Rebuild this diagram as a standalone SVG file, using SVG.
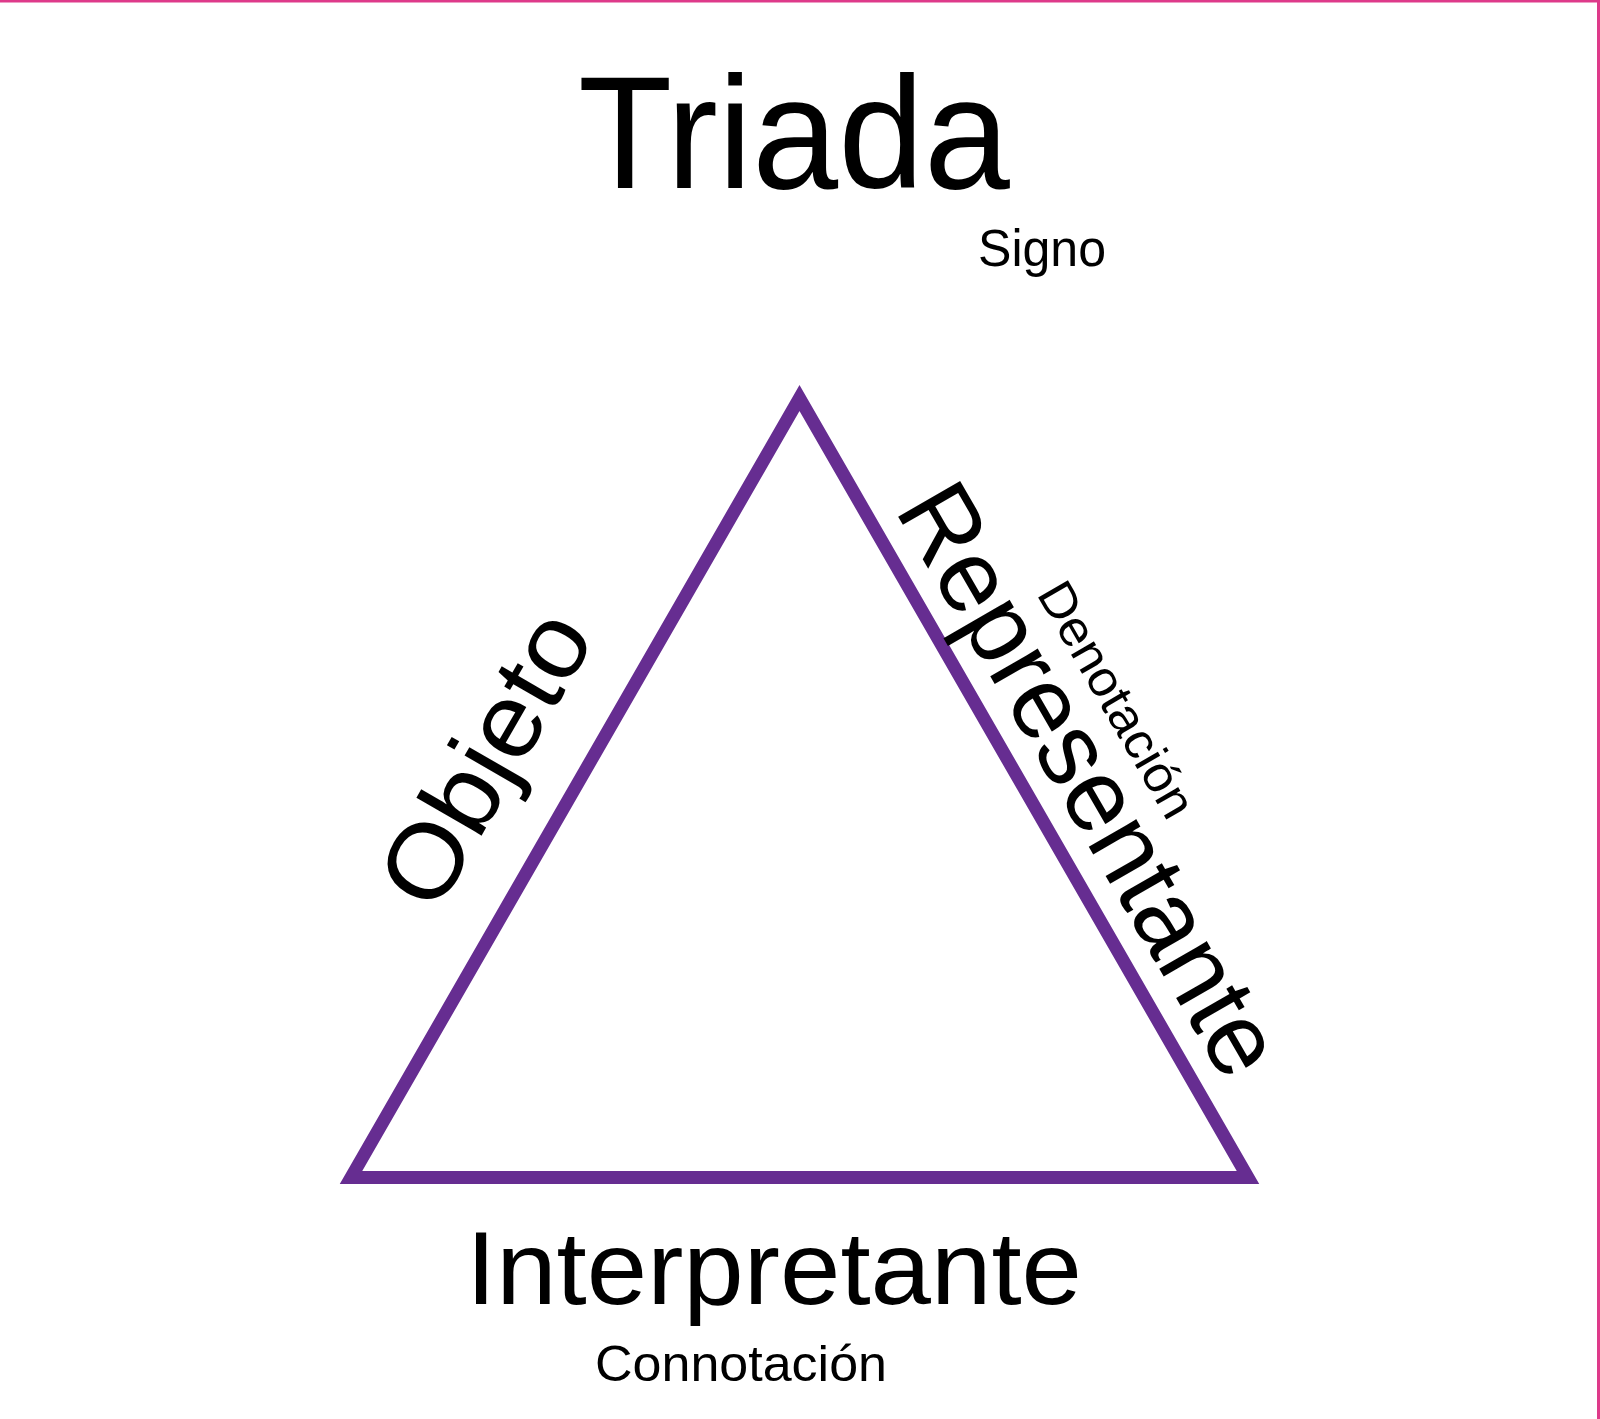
<svg xmlns="http://www.w3.org/2000/svg" width="1600" height="1419" viewBox="0 0 1600 1419">
  <style>
    .t { font-family: "Liberation Sans", Arial, sans-serif; fill: #000; text-anchor: middle; }
    .edge { fill: none; stroke: #662d91; stroke-width: 13; stroke-linejoin: miter; stroke-miterlimit: 10; }
    .frame { stroke: #de3a8a; stroke-width: 3; }
  </style>
  <rect x="0" y="0" width="1600" height="1419" fill="#ffffff"/>
  <g id="frame">
    <line class="frame" x1="0" y1="1" x2="1600" y2="1"/>
    <line class="frame" x1="1598.5" y1="0" x2="1598.5" y2="1419"/>
  </g>
  <g id="title">
    <text class="t" x="794" y="188" font-size="160" textLength="432" lengthAdjust="spacingAndGlyphs">Triada</text>
    <text class="t" x="1042" y="266" font-size="52" textLength="128" lengthAdjust="spacingAndGlyphs">Signo</text>
  </g>
  <g id="connectors">
    <polygon class="edge" points="351,1177.5 799.5,398 1248,1177.5"/>
  </g>
  <g id="objeto">
    <text class="t" x="516" y="776" font-size="104" textLength="322" lengthAdjust="spacingAndGlyphs" transform="rotate(-60 516 776)">Objeto</text>
  </g>
  <g id="representante">
    <text class="t" x="1060" y="797" font-size="104" textLength="664" lengthAdjust="spacingAndGlyphs" transform="rotate(60 1060 797)">Representante</text>
    <text class="t" x="1102" y="708" font-size="50" textLength="264" lengthAdjust="spacingAndGlyphs" transform="rotate(60 1102 708)">Denotación</text>
  </g>
  <g id="interpretante">
    <text class="t" x="774" y="1304" font-size="103" textLength="616" lengthAdjust="spacingAndGlyphs">Interpretante</text>
    <text class="t" x="741" y="1381" font-size="50" textLength="292" lengthAdjust="spacingAndGlyphs">Connotación</text>
  </g>
</svg>
